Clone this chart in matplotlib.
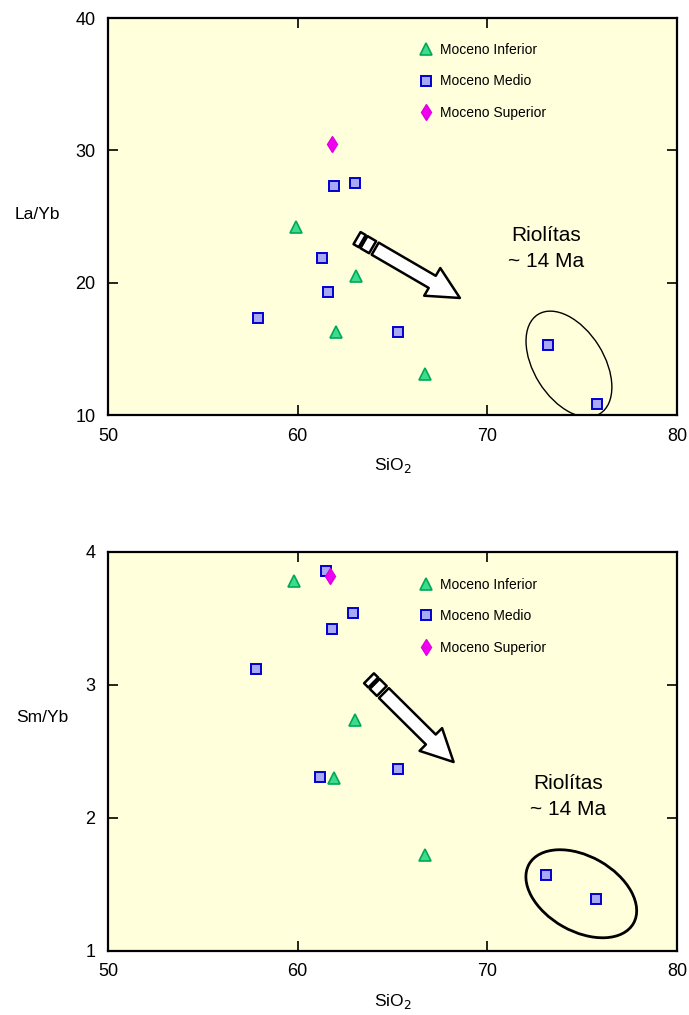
import numpy as np
import matplotlib
matplotlib.use("Agg")
import matplotlib.pyplot as plt
import matplotlib.patches as mpatches
from matplotlib.transforms import Affine2D, ScaledTranslation

plt.rcParams['font.family'] = ['Liberation Sans', 'DejaVu Sans']

# La/Yb vs SiO2
inf_si_la = [59.9, 63.1, 62.0, 66.7]
inf_la = [24.2, 20.5, 16.3, 13.1]
med_si_la = [57.9, 61.9, 63.0, 61.3, 61.6, 65.3, 73.2, 75.8]
med_la = [17.3, 27.3, 27.5, 21.9, 19.3, 16.3, 15.3, 10.8]
sup_si_la = [61.8]
sup_la = [30.5]

# Sm/Yb vs SiO2
inf_si_sm = [59.8, 63.0, 61.9, 66.7]
inf_sm = [3.78, 2.74, 2.30, 1.72]
med_si_sm = [61.5, 62.9, 61.8, 57.8, 61.2, 65.3, 73.1, 75.7]
med_sm = [3.86, 3.54, 3.42, 3.12, 2.31, 2.37, 1.57, 1.39]
sup_si_sm = [61.7]
sup_sm = [3.82]

labels = ['Moceno Inferior', 'Moceno Medio', 'Moceno Superior']

BG = '#ffffdc'


def px_trans(fig, ax, x, y, angle=0):
    # shape given in pixels, anchored at a data point
    return (Affine2D().rotate_deg(angle).scale(1 / 100.) + fig.dpi_scale_trans
            + ScaledTranslation(x, y, ax.transData))


def draw_arrow(fig, ax, x, y, angle):
    tr = px_trans(fig, ax, x, y, angle)
    w = 7
    pieces = [
        [(0, -w), (6, -w), (6, w), (0, w)],
        [(8, -w), (18, -w), (18, w), (8, w)],
        [(21, -w), (87, -w), (87, -16), (119, 0), (87, 16), (87, w), (21, w)],
    ]
    for p in pieces:
        ax.add_patch(mpatches.Polygon(p, closed=True, facecolor='white',
                                      edgecolor='black', lw=1.8,
                                      joinstyle='round', transform=tr,
                                      zorder=4))


def panel(fig, ax, series, ylim, yticks, ylabel, leg_y):
    ax.set_facecolor(BG)
    (xi, yi), (xm, ym), (xs, ys) = series
    ax.plot(xi, yi, '^', ms=8, mfc='#3ddc8c', mec='#00a85a', mew=1.2,
            ls='none', label=labels[0], zorder=5)
    ax.plot(xm, ym, 's', ms=7.5, mfc='#a8a8f4', mec='#0000d0', mew=1.4,
            ls='none', label=labels[1], zorder=5)
    ax.plot(xs, ys, 'd', ms=8.5, mfc='#f000f0', mec='#e000e0', mew=1,
            ls='none', label=labels[2], zorder=5)
    ax.set_xlim(50, 80)
    ax.set_ylim(*ylim)
    ax.set_xticks([50, 60, 70, 80])
    ax.set_yticks(yticks)
    ax.tick_params(direction='in', length=7, width=1.2, labelsize=13,
                   top=True, right=True, pad=9)
    for s in ax.spines.values():
        s.set_linewidth(1.6)
    ax.set_xlabel('SiO$_2$', fontsize=12.5, labelpad=8)
    ax.set_ylabel(ylabel, fontsize=12.5, rotation=0, ha='right', va='center')
    ax.legend(loc='upper left', bbox_to_anchor=(0.547, leg_y),
              frameon=False, fontsize=10, handlelength=1,
              handletextpad=0.5, labelspacing=1.25, borderpad=0,
              borderaxespad=0)


fig = plt.figure(figsize=(6.89, 10.15), dpi=100)
ax1 = fig.add_axes([0.1567, 0.5911, 0.826, 0.3911])
ax2 = fig.add_axes([0.1567, 0.0631, 0.826, 0.3931])

panel(fig, ax1, [(inf_si_la, inf_la), (med_si_la, med_la), (sup_si_la, sup_la)],
      (10, 40), [10, 20, 30, 40], 'La/Yb', 0.937)
ax1.yaxis.set_label_coords(-0.084, 0.504)
panel(fig, ax2, [(inf_si_sm, inf_sm), (med_si_sm, med_sm), (sup_si_sm, sup_sm)],
      (1, 4), [1, 2, 3, 4], 'Sm/Yb', 0.935)
ax2.yaxis.set_label_coords(-0.07, 0.584)

# rhyolite groups
ax1.add_patch(mpatches.Ellipse((0, 0), 117, 70, angle=-58, fill=False,
                               edgecolor='black', lw=1.0,
                               transform=px_trans(fig, ax1, 74.3, 13.85)))
ax2.add_patch(mpatches.Ellipse((0, 0), 120, 75, angle=-29.5, fill=False,
                               edgecolor='black', lw=2.0,
                               transform=px_trans(fig, ax2, 74.95, 1.43)))

ax1.text(73.1, 23.6, 'Riolítas', fontsize=15, ha='center', va='center')
ax1.text(73.1, 21.6, '~ 14 Ma', fontsize=15, ha='center', va='center')
ax2.text(74.25, 2.26, 'Riolítas', fontsize=15, ha='center', va='center')
ax2.text(74.25, 2.06, '~ 14 Ma', fontsize=15, ha='center', va='center')

draw_arrow(fig, ax1, 63.13, 23.37, -30.2)
draw_arrow(fig, ax2, 63.76, 3.05, -44.7)

fig.savefig('out.png', dpi=100, facecolor='white')
